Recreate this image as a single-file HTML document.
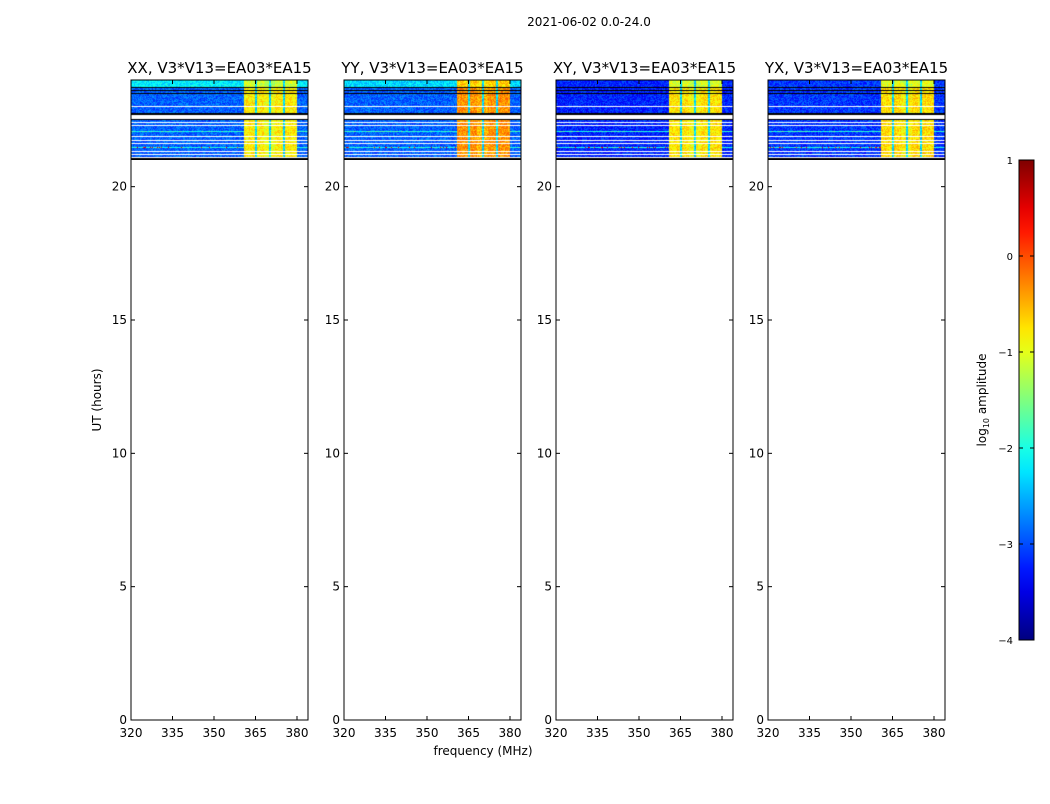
<!DOCTYPE html>
<html><head><meta charset="utf-8"><style>
body{margin:0;background:#fff;width:1050px;height:800px;overflow:hidden;font-family:"DejaVu Sans",sans-serif}
svg text{font-family:"DejaVu Sans",sans-serif}
</style></head><body>
<svg id="fig" width="1050" height="800"></svg>
<script>
const panelNames=["XX, V3*V13=EA03*EA15","YY, V3*V13=EA03*EA15","XY, V3*V13=EA03*EA15","YX, V3*V13=EA03*EA15"];
const xTicks=[320,335,350,365,380];
const yTicks=[0,5,10,15,20];
const cbTicks=[-4,-3,-2,-1,0,1];
// time segments [startHour,endHour,kind]
const segStart=[24.00,23.74,23.70,23.63,23.59,23.51,23.48,23.03,22.99,22.76,22.69,22.54,22.50,22.43,22.39,22.31,22.28,22.09,22.05,21.90,21.86,21.75,21.71,21.64,21.60,21.49,21.45,21.34,21.30,21.23,21.19,21.11,21.08];
const segEnd=[23.74,23.70,23.63,23.59,23.51,23.48,23.03,22.99,22.76,22.69,22.54,22.50,22.43,22.39,22.31,22.28,22.09,22.05,21.90,21.86,21.75,21.71,21.64,21.60,21.49,21.45,21.34,21.30,21.23,21.19,21.11,21.08,21.00];
const segKind=["top","k","body","k","body","k","body","w","body","k","w","k","body","w","body","w","body","line","body","w","body","w","body","w","body","hot","body","w","body","w","body","w","k"];
// per-panel log amplitude levels
const topLevel=[-2.2,-2.3,-3.2,-3.1];
const bodyLevel=[-2.9,-2.9,-3.2,-3.1];
const brightLevel=[-0.8,-0.35,-0.75,-0.7];
const lineLevel=[-1.9,-1.9,-1.9,-1.9];
const hotLevel=[0.3,0.4,0.3,0.3];
// frequency bands (MHz)
const brightStart=360.5, brightEnd=380.0;
const gapFreqs=[365.0,370.0,375.0];

const X0=[131,344,556,768], PW=177, PT=80, PB=720;
const fx=(f,i)=>X0[i]+(f-320)*(166/60);
const hy=h=>PB-h*(PB-PT)/24;
const svg=document.getElementById('fig');
const NS="http://www.w3.org/2000/svg";
function mk(t,a,p){const e=document.createElementNS(NS,t);for(const k in a)e.setAttribute(k,a[k]);(p||svg).appendChild(e);return e;}
function jet(v){v=Math.max(0,Math.min(1,v));const r=Math.max(0,Math.min(1,1.5-Math.abs(4*v-3))),g=Math.max(0,Math.min(1,1.5-Math.abs(4*v-2))),b=Math.max(0,Math.min(1,1.5-Math.abs(4*v-1)));return `rgb(${r*255|0},${g*255|0},${b*255|0})`;}
function hash(a,b){let h=(a*374761393+b*668265263)|0;h=(h^(h>>>13))*1274126177|0;return ((h^(h>>>16))>>>0)/4294967296;}
const lv=l=>(l+4)/5;
let t=mk('text',{x:589,y:26,'text-anchor':'middle','font-size':12});t.textContent="2021-06-02 0.0-24.0";

for(let i=0;i<4;i++){
  const g=mk('g',{});
  
  
  const fo=mk('foreignObject',{x:X0[i],y:PT,width:PW,height:hy(21)-PT},g);
  const c=document.createElement('canvas');c.width=PW;c.height=Math.round(hy(21)-PT);
  
  fo.appendChild(c);const ctx=c.getContext('2d');
  for(let s=0;s<segStart.length;s++){
    const y0=Math.round(hy(segStart[s])-PT),y1=Math.round(hy(segEnd[s])-PT);
    for(let y=y0;y<Math.max(y1,y0+1);y++){
      for(let x=0;x<PW;x++){
        const f=320+x*60/166;let col;
        const k=segKind[s];
        if(k==='w')col='#fff';else if(k==='k')col='#000';else{
          let base=k==='top'?topLevel[i]:k==='hot'?lineLevel[i]:k==='line'?lineLevel[i]:bodyLevel[i];
          const inB=f>=brightStart&&f<brightEnd;
          const gap=gapFreqs.some(q=>Math.abs(f-q)<0.4);
          if(inB&&!gap)base=brightLevel[i]+(k==='top'?-0.3:0)+((f>368&&f<372)?-0.15:0);
          else if(inB&&gap)base=-2.3;
          if(k==='hot'&&!inB&&hash(x,i)>0.85)base=hotLevel[i];
          col=jet(lv(base+(hash(x*7+i,y*13)-0.5)*0.6));
        }
        ctx.fillStyle=col;ctx.fillRect(x,y,1,1);
      }
    }
  }
  mk('rect',{x:X0[i],y:PT,width:PW,height:PB-PT,fill:'none',stroke:'#000','stroke-width':1},g);
  let tt=mk('text',{x:X0[i]+PW/2,y:73,'text-anchor':'middle','font-size':15},g);tt.textContent=panelNames[i];
  
  xTicks.forEach(v=>{const x=fx(v,i);mk('line',{x1:x,x2:x,y1:PB,y2:PB-4,stroke:'#000'},g);mk('line',{x1:x,x2:x,y1:PT,y2:PT+4,stroke:'#000'},g);
    const l=mk('text',{x:x,y:737,'text-anchor':'middle','font-size':12},g);l.textContent=v;
    });
  yTicks.forEach(v=>{const y=hy(v);mk('line',{x1:X0[i],x2:X0[i]+4,y1:y,y2:y,stroke:'#000'},g);mk('line',{x1:X0[i]+PW,x2:X0[i]+PW-4,y1:y,y2:y,stroke:'#000'},g);
    const l=mk('text',{x:X0[i]-4,y:y+4,'text-anchor':'end','font-size':12},g);l.textContent=v;
    });
}
t=mk('text',{x:483,y:755,'text-anchor':'middle','font-size':12});t.textContent="frequency (MHz)";

t=mk('text',{x:101,y:400,'text-anchor':'middle','font-size':12,transform:'rotate(-90 101 400)'});t.textContent="UT (hours)";

const defs=mk('defs',{});const lg=mk('linearGradient',{id:'jg',x1:0,y1:1,x2:0,y2:0},defs);
for(let k=0;k<=20;k++)mk('stop',{offset:k/20,'stop-color':jet(k/20)},lg);
const cb=mk('rect',{x:1019,y:160,width:15,height:480,fill:'url(#jg)',stroke:'#000'});

cbTicks.forEach(v=>{const y=640-(v+4)*96;mk('line',{x1:1019,x2:1023,y1:y,y2:y,stroke:'#000'});mk('line',{x1:1034,x2:1030,y1:y,y2:y,stroke:'#000'});
  const l=mk('text',{x:1013,y:y+4,'text-anchor':'end','font-size':10});l.textContent=v<0?'\u2212'+(-v):v;
  });
t=mk('text',{x:986,y:400,'text-anchor':'middle','font-size':12,transform:'rotate(-90 986 400)'});
t.innerHTML='log<tspan font-size="8" dy="3">10</tspan><tspan dy="-3"> amplitude</tspan>';

</script></body></html>
